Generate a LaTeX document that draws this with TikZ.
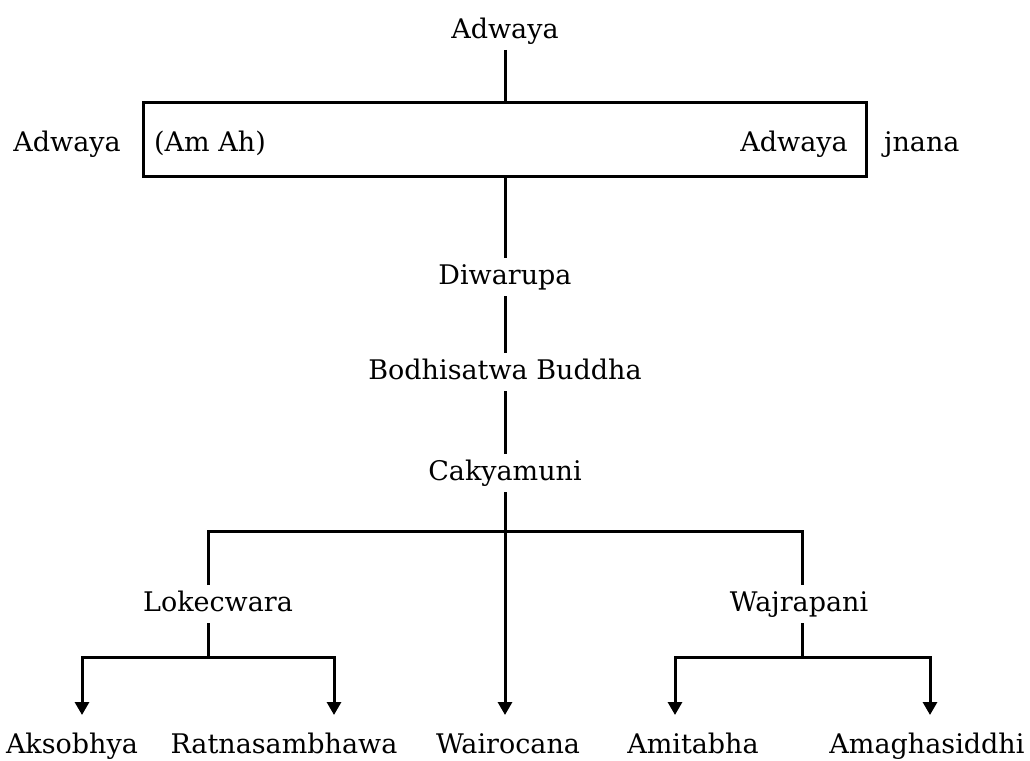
\documentclass[tikz,border=0pt]{standalone}
\usepackage{fontspec}
\setmainfont{DejaVu Serif}
\usetikzlibrary{arrows.meta, positioning, calc}

\tikzset{
  deity/.style={inner sep=0pt, outer ysep=6pt, text height=20pt,
                text depth=6pt, font=\fontsize{27}{31}\selectfont},
  leaf/.style={deity, outer ysep=18pt},
  link/.style={line width=3pt},
  flow/.style={link, -{Triangle[length=13pt, width=14pt]}}
}

\begin{document}
\begin{tikzpicture}[x=1pt, y=-1pt]
  \useasboundingbox (0,0) rectangle (1030,760);

  % Top and the box
  \node[deity, anchor=base] (adw) at (505,38) {Adwaya};
  \node[draw, line width=3pt, minimum width=723pt, minimum height=74pt,
        inner sep=0pt] (box) at (505,139) {};
  \node[deity, anchor=base west] (amah) at (154,151) {(Am Ah)};
  \node[deity, anchor=base east] (adwin) at (848,151) {Adwaya};
  \node[deity, anchor=base east] (adwout) at (121,151) {Adwaya};
  \node[deity, anchor=base west] (jnana) at (884,151) {jnana};

  % Middle column
  \node[deity, anchor=base] (diw) at (505,284) {Diwarupa};
  \node[deity, anchor=base] (bod) at (505,379) {Bodhisatwa Buddha};
  \node[deity, anchor=base] (cak) at (505,480) {Cakyamuni};

  % Branches
  \node[deity, anchor=base] (lok) at (218,611) {Lokecwara};
  \node[deity, anchor=base] (waj) at (799,611) {Wajrapani};

  % Bottom row
  \node[leaf, anchor=base] (aks) at (72,753) {Aksobhya};
  \node[leaf, anchor=base] (rat) at (284,753) {Ratnasambhawa};
  \node[leaf, anchor=base] (wai) at (508,753) {Wairocana};
  \node[leaf, anchor=base] (ami) at (693,753) {Amitabha};
  \node[leaf, anchor=base] (amg) at (927,753) {Amaghasiddhi};

  \coordinate (split) at (505,531);
  \coordinate (lkj) at (208,657);
  \coordinate (wjj) at (802,657);
  \coordinate (aksX) at (82,657);
  \coordinate (ratX) at (334,657);
  \coordinate (amiX) at (675,657);
  \coordinate (amgX) at (930,657);

  % Connectors
  \draw[link] (adw) -- (box);
  \draw[link] (box) -- (diw);
  \draw[link] (diw) -- (bod);
  \draw[link] (bod) -- (cak);
  \draw[link] (lkj |- lok.north) |- (split) -| (wjj |- waj.north);
  \draw[flow] (cak) -- (split |- wai.north);
  \draw[flow] (lkj |- lok.south) -- (lkj) -| (aksX |- aks.north);
  \draw[flow] (lkj) -| (ratX |- rat.north);
  \draw[flow] (wjj |- waj.south) -- (wjj) -| (amiX |- ami.north);
  \draw[flow] (wjj) -| (amgX |- amg.north);
\end{tikzpicture}
\end{document}
